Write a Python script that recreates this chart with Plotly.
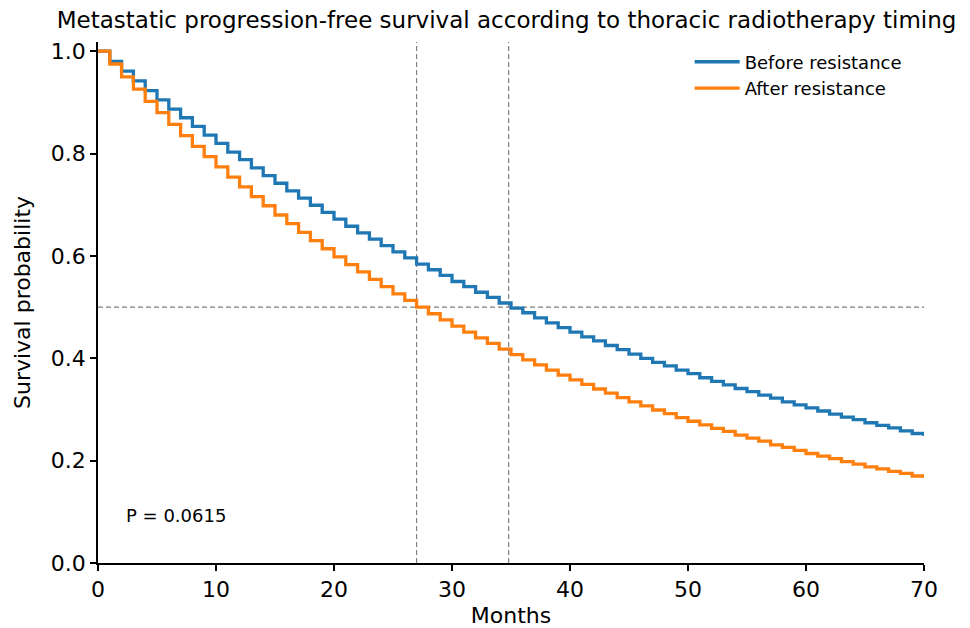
import plotly.graph_objects as go

months = list(range(0, 71))
before_resistance = [
    1.000, 0.980, 0.961, 0.942, 0.923, 0.905, 0.887, 0.870, 0.853, 0.836,
    0.820, 0.803, 0.788, 0.772, 0.757, 0.742, 0.727, 0.713, 0.699, 0.685,
    0.672, 0.658, 0.645, 0.633, 0.620, 0.608, 0.596, 0.584, 0.573, 0.562,
    0.550, 0.540, 0.529, 0.519, 0.508, 0.498, 0.489, 0.479, 0.469, 0.460,
    0.451, 0.442, 0.434, 0.425, 0.417, 0.408, 0.400, 0.392, 0.385, 0.377,
    0.370, 0.362, 0.355, 0.348, 0.341, 0.335, 0.328, 0.322, 0.315, 0.309,
    0.303, 0.297, 0.291, 0.285, 0.280, 0.274, 0.269, 0.264, 0.258, 0.253,
    0.248,
]
after_resistance = [
    1.000, 0.975, 0.950, 0.926, 0.902, 0.880, 0.857, 0.835, 0.814, 0.794,
    0.774, 0.754, 0.735, 0.716, 0.698, 0.680, 0.663, 0.646, 0.630, 0.614,
    0.598, 0.583, 0.569, 0.554, 0.540, 0.526, 0.513, 0.500, 0.487, 0.475,
    0.463, 0.451, 0.440, 0.429, 0.418, 0.407, 0.397, 0.387, 0.377, 0.367,
    0.358, 0.349, 0.340, 0.332, 0.323, 0.315, 0.307, 0.299, 0.292, 0.284,
    0.277, 0.270, 0.263, 0.257, 0.250, 0.244, 0.238, 0.231, 0.226, 0.220,
    0.214, 0.209, 0.204, 0.198, 0.193, 0.188, 0.184, 0.179, 0.175, 0.170,
    0.166,
]
median_before = 34.8
median_after = 27.0
p_value_text = "P = 0.0615"
title = "Metastatic progression-free survival according to thoracic radiotherapy timing"
x_ticks = [0, 10, 20, 30, 40, 50, 60, 70]
y_ticks = [0, 0.2, 0.4, 0.6, 0.8, 1.0]
y_tick_labels = ["0.0", "0.2", "0.4", "0.6", "0.8", "1.0"]

FONT = "DejaVu Sans"
fig = go.Figure()
fig.add_trace(go.Scatter(x=months, y=before_resistance, mode="lines", line_shape="hv",
                         name="Before resistance", line=dict(color="#1f77b4", width=3.3)))
fig.add_trace(go.Scatter(x=months, y=after_resistance, mode="lines", line_shape="hv",
                         name="After resistance", line=dict(color="#ff7f0e", width=3.3)))

dash = dict(color="#808080", width=1.2, dash="5px,3px")
fig.add_shape(type="line", xref="x", yref="y", x0=0, x1=70, y0=0.5, y1=0.5, line=dash, layer="below")
for m in (median_after, median_before):
    fig.add_shape(type="line", xref="x", yref="paper", x0=m, x1=m, y0=0, y1=1, line=dash, layer="below")

fig.add_annotation(x=2.2, y=0.092, xref="x", yref="y", text=p_value_text, showarrow=False,
                   xanchor="left", yanchor="middle", font=dict(family=FONT, size=18, color="black"))

fig.update_layout(
    width=970, height=628,
    margin=dict(l=90, r=54, t=34, b=73),
    paper_bgcolor="white", plot_bgcolor="white",
    font=dict(family=FONT, color="black"),
    title=dict(text=title, x=0.514, xanchor="center", y=0.981, yanchor="middle",
               font=dict(family=FONT, size=23, color="black")),
    legend=dict(x=0.979, y=0.997, xanchor="right", yanchor="top", bgcolor="rgba(255,255,255,0)",
                itemwidth=45, font=dict(family=FONT, size=18, color="black")),
    showlegend=True,
)
fig.update_xaxes(range=[0, 70], tickvals=x_ticks, showgrid=False, zeroline=False,
                 showline=True, linecolor="black", linewidth=1.5, ticks="outside", ticklen=6,
                 tickwidth=1.5, tickcolor="black", tickfont=dict(family=FONT, size=22),
                 title=dict(text="Months", font=dict(family=FONT, size=22), standoff=6))
fig.update_yaxes(range=[0, 1.018], tickvals=y_ticks, ticktext=y_tick_labels,
                 showgrid=False, zeroline=False,
                 showline=True, linecolor="black", linewidth=1.5, ticks="outside", ticklen=6,
                 tickwidth=1.5, tickcolor="black", tickfont=dict(family=FONT, size=22),
                 title=dict(text="Survival probability", font=dict(family=FONT, size=22), standoff=14))

fig.write_html("out.html")
